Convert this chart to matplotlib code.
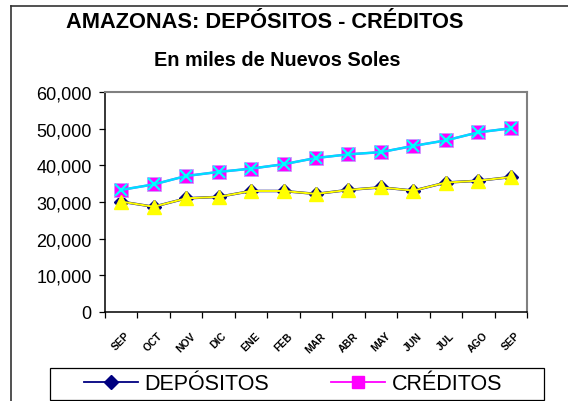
import numpy as np
import matplotlib
matplotlib.use("Agg")
import matplotlib.pyplot as plt
from matplotlib.lines import Line2D
from matplotlib.patches import Rectangle
from matplotlib.ticker import FuncFormatter

plt.rcParams['font.family'] = ['Liberation Sans', 'DejaVu Sans']

months = ["SEP", "OCT", "NOV", "DIC", "ENE", "FEB", "MAR",
          "ABR", "MAY", "JUN", "JUL", "AGO", "SEP"]
depositos = [30100, 28700, 31000, 31400, 33000, 33000, 32200,
             33300, 34000, 33100, 35300, 35800, 36800]
creditos = [33300, 34800, 37100, 38200, 39100, 40300, 42000,
            43000, 43600, 45300, 46800, 49000, 50100]

W, H = 568, 402
fig = plt.figure(figsize=(W / 100, H / 100), dpi=100)
ax = fig.add_axes([105 / W, 1 - 313 / H, 422 / W, 220 / H])

x = np.arange(len(months))
# depositos: navy diamonds under yellow triangles
ax.plot(x, depositos, color="#000080", lw=1.8, marker="D", ms=7,
        mfc="#000080", mec="#000080", zorder=3)
ax.plot(x, depositos, color="#FFFF00", lw=1.4, marker="^", ms=10.5,
        mfc="#FFFF00", mec="#FFFF00", zorder=4)
# creditos: magenta squares under cyan x
ax.plot(x, creditos, color="#FF00FF", lw=1.6, marker="s", ms=9.5,
        mfc="#FF00FF", mec="#CC99FF", mew=0.6, zorder=3)
ax.plot(x, creditos, color="#00DDFF", lw=1.8, marker="x", ms=8,
        mec="#00FFFF", mew=1.6, zorder=4)

ax.set_xlim(-0.5, len(months) - 0.5)
ax.set_ylim(0, 60000)
ax.set_yticks(np.arange(0, 60001, 10000))
ax.yaxis.set_major_formatter(FuncFormatter(lambda v, p: "{:,.0f}".format(v)))
ax.tick_params(axis="y", direction="out", length=4.5, width=0.9,
               labelsize=13, pad=5)

ax.set_xticks(np.arange(-0.5, len(months), 1.0))
ax.set_xticklabels([])
ax.set_xticks(x, minor=True)
ax.set_xticklabels(months, minor=True, rotation=45, ha="center", va="top",
                   fontsize=7.5, fontweight="bold")
ax.tick_params(axis="x", which="major", direction="out", length=4, width=0.9)
ax.tick_params(axis="x", which="minor", length=0, pad=13)

for side in ["left", "bottom"]:
    ax.spines[side].set_color("black")
    ax.spines[side].set_linewidth(1.1)
for side in ["top", "right"]:
    ax.spines[side].set_color("#808080")
    ax.spines[side].set_linewidth(1.5)

fig.text(265 / W, 1 - 22 / H, "AMAZONAS: DEPÓSITOS - CRÉDITOS",
         ha="center", va="center", fontsize=15.7, fontweight="bold")
fig.text(277 / W, 1 - 60 / H, "En miles de Nuevos Soles",
         ha="center", va="center", fontsize=14.3, fontweight="bold")

# outer chart frame (left and top only)
fig.add_artist(Line2D([11 / W, 11 / W], [0, 1 - 7 / H], color="#333333", lw=1.2))
fig.add_artist(Line2D([11 / W, 1], [1 - 7 / H, 1 - 7 / H], color="#333333", lw=1.2))

# legend box
fig.add_artist(Rectangle((50 / W, 1 / H), 494 / W, 32 / H, transform=fig.transFigure,
                         fill=False, edgecolor="black", lw=0.9))
handles = [Line2D([], [], color="#000080", lw=1.3, marker="D", ms=7,
                  mfc="#000080", mec="#000080"),
           Line2D([], [], color="#FF00FF", lw=1.3, marker="s", ms=9,
                  mfc="#FF00FF", mec="#FF00FF")]
fig.legend(handles, ["DEPÓSITOS", "CRÉDITOS"], loc="center",
           bbox_to_anchor=(293 / W, 1 - 385 / H), ncol=2, frameon=False,
           fontsize=15.5, handlelength=2.5, handletextpad=0.3,
           columnspacing=2.9, borderpad=0, borderaxespad=0)

fig.savefig("out.png", dpi=100)
